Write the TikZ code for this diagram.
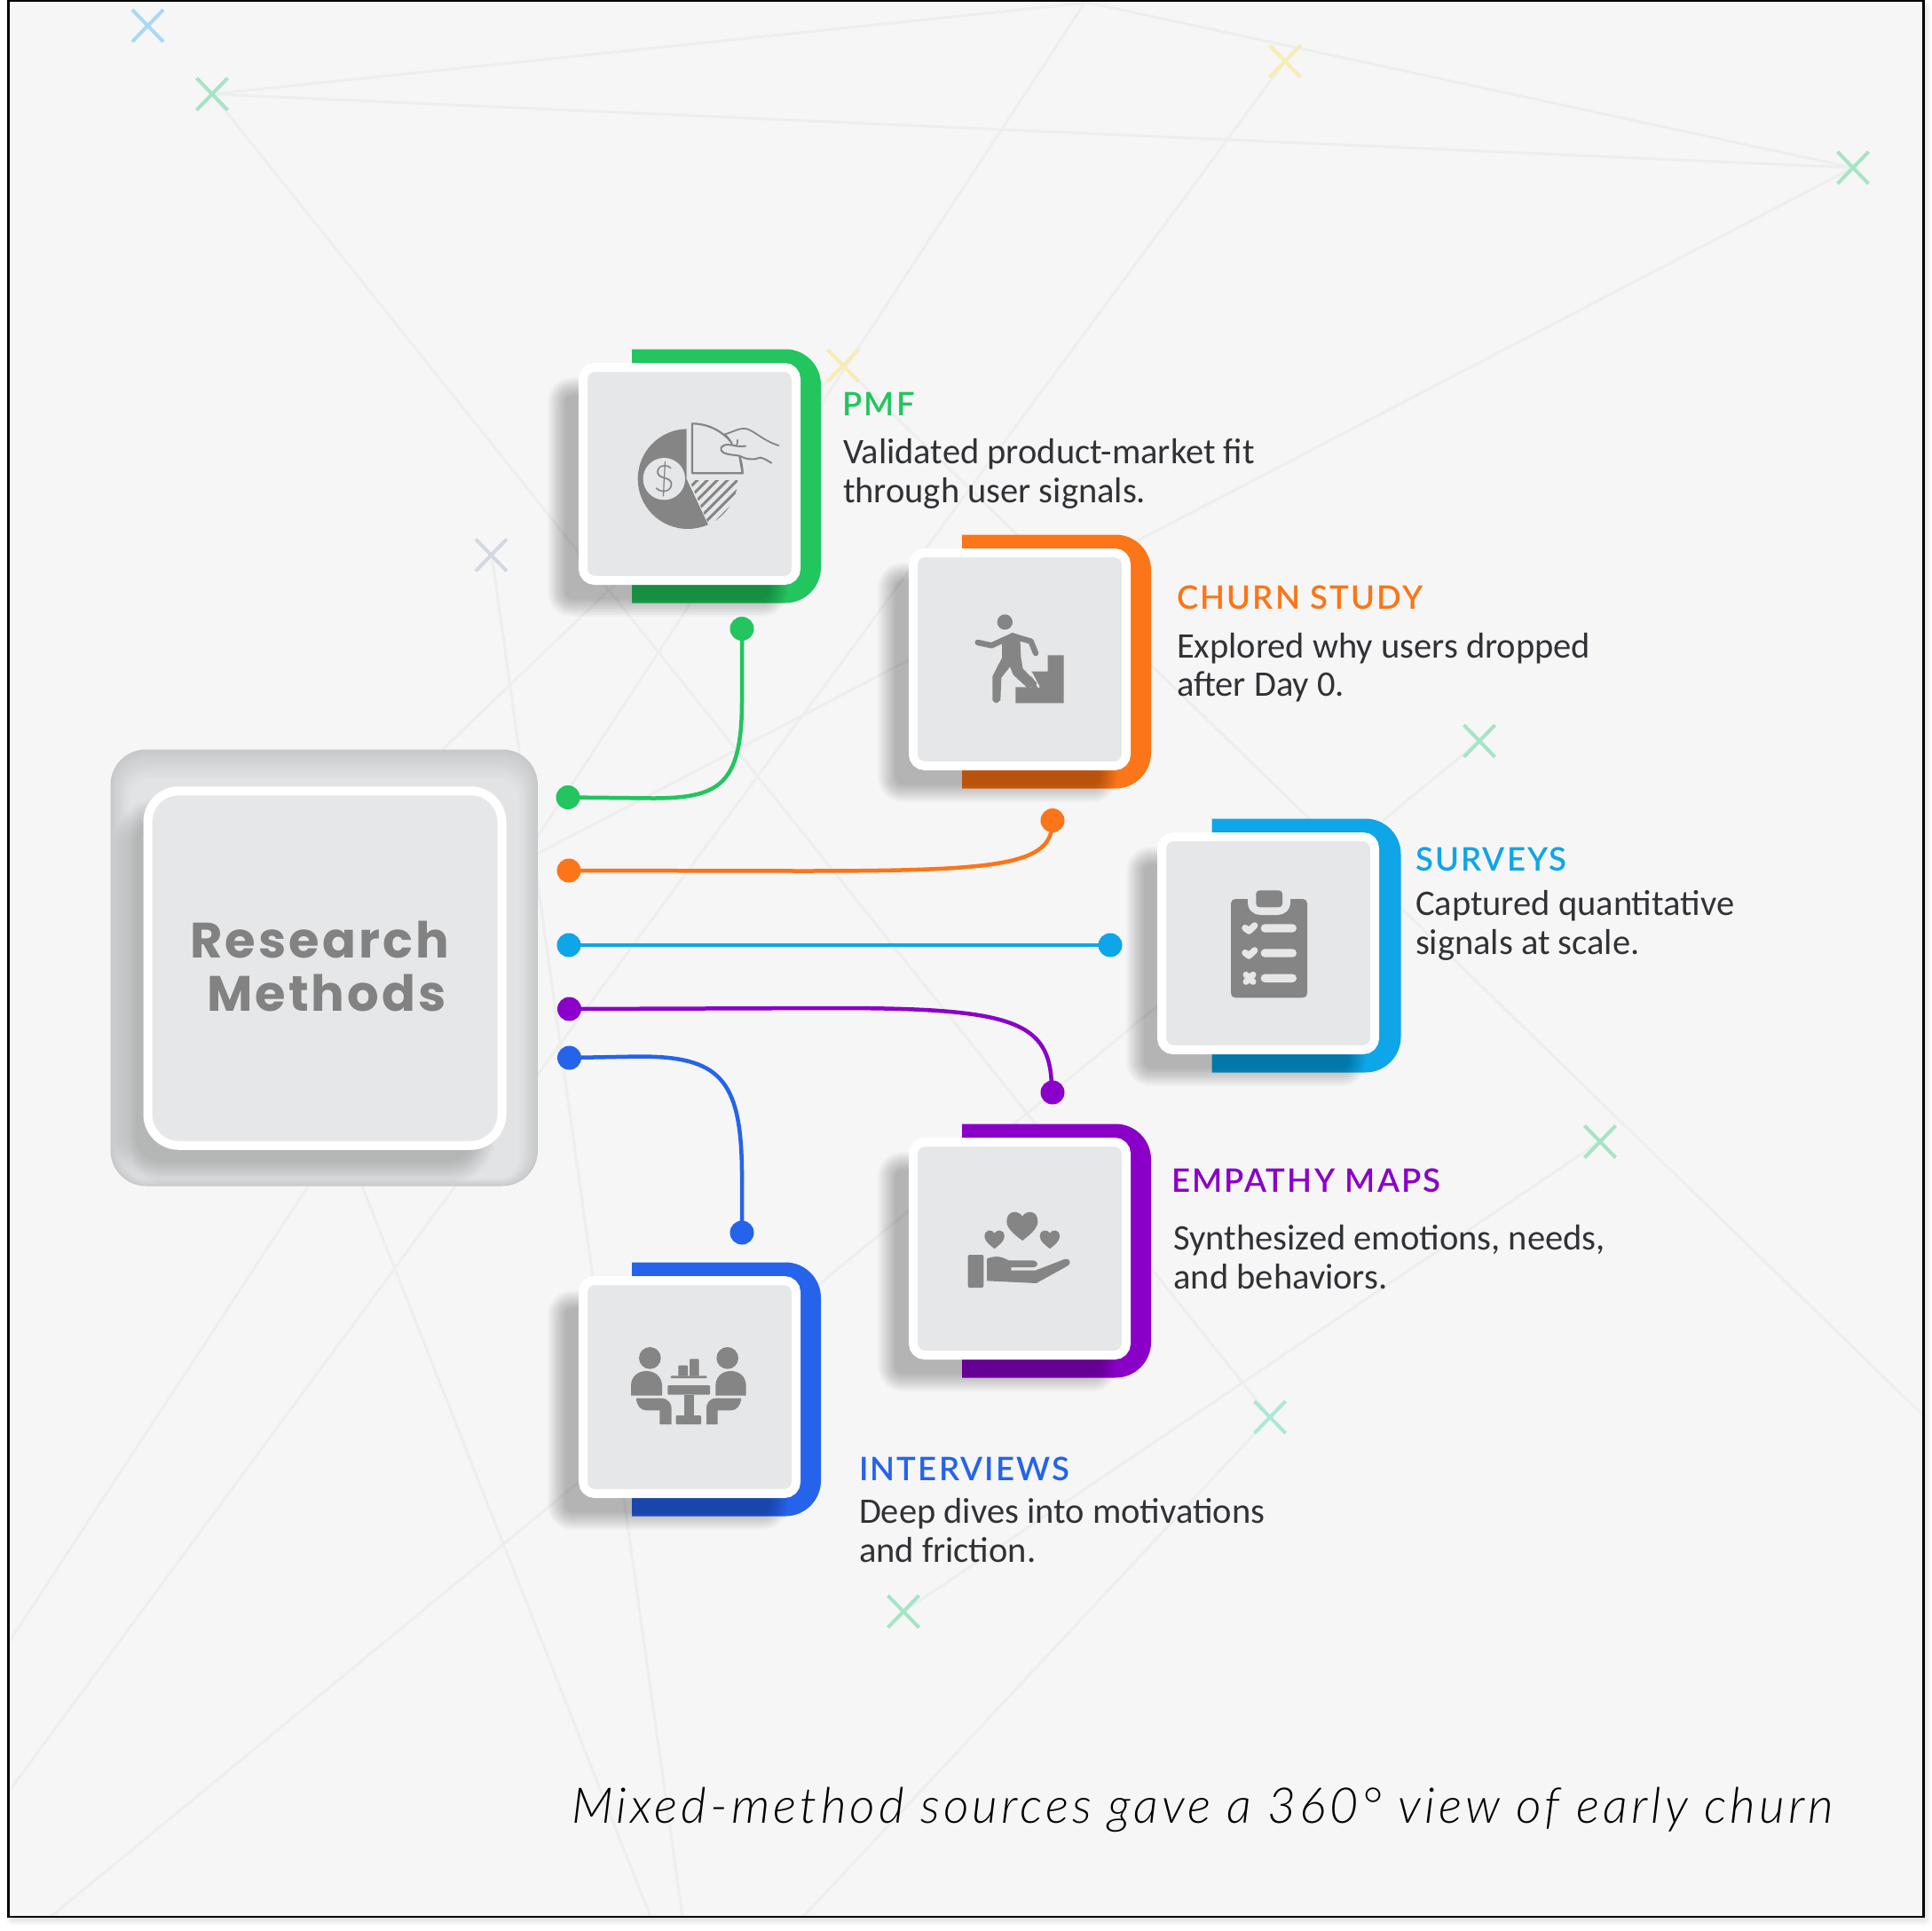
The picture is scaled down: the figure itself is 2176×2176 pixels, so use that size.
\documentclass[tikz,border=0pt]{standalone}
\usepackage{fontspec}
\newfontfamily\bodyfont{Carlito}
\newfontfamily\titlefont[LetterSpace=6]{Lato Semibold}
\newfontfamily\capfont[LetterSpace=7.45]{Lato Light Italic}
\newfontfamily\heavyfont[LetterSpace=5.5]{Poppins Bold}
\newfontfamily\dollarfont{Lato Light}
\definecolor{pagebg}{HTML}{F6F6F6}
\definecolor{tilegray}{HTML}{E6E7E9}
\definecolor{icongray}{HTML}{858585}
\definecolor{gridline}{HTML}{EDEEEE}
\definecolor{bodyink}{HTML}{303236}
\definecolor{cgreen}{HTML}{22C55E}
\definecolor{corange}{HTML}{FC7518}
\definecolor{csky}{HTML}{0EA5E9}
\definecolor{cpurple}{HTML}{8B00C9}
\definecolor{cblue}{HTML}{2563EB}
\definecolor{xblue}{HTML}{A9D8F5}
\definecolor{xgreen}{HTML}{A6E4C6}
\definecolor{xyellow}{HTML}{F7ECB4}
\definecolor{xslate}{HTML}{D3D8E2}
\definecolor{xteal}{HTML}{ABE8D7}
\definecolor{hubedge}{HTML}{C8C9CA}
\definecolor{hubmid}{HTML}{E2E3E4}
\tikzset{
  grid/.style={draw=gridline,line width=3pt},
  xmark/.style={line width=4pt},
  tile/.style={draw=white,fill=tilegray,line width=10pt,rounded corners=13pt,minimum size=240pt,inner sep=0pt,outer sep=0pt},
  dotnode/.style={circle,fill=#1,minimum size=27pt,inner sep=0pt,outer sep=0pt},
  wire/.style={draw=#1,line width=4.5pt},
  icon/.style={fill=icongray},
  iconline/.style={draw=icongray,line cap=round,line join=round},
  cut/.style={draw=tilegray,line cap=round,line join=round},
  titletext/.style={anchor=base west,inner sep=0pt,outer sep=0pt,font=\titlefont\fontsize{36.5}{40}\selectfont,text=#1},
  bodytext/.style={anchor=base west,inner sep=0pt,outer sep=0pt,font=\bodyfont\fontsize{40.5}{44}\selectfont,text=bodyink},
}
% soft shadow: x1 y1 x2 y2 radius layer-opacity spread
\newcommand{\softshadow}[7]{%
  \foreach \k in {0,...,11}{%
    \pgfmathsetmacro{\dd}{(\k-5.5)*#7/5.5}%
    \pgfmathsetmacro{\rr}{max(#5-\dd,1)}%
    \fill[black,fill opacity=#6,rounded corners=\rr pt] ({#1+\dd},{#2+\dd}) rectangle ({#3-\dd},{#4-\dd});%
  }}
% coloured back plate + shadow + tile: name x y colour plate-offset
\newcommand{\card}[5]{%
  \pgfmathsetmacro{\xa}{#2+60+#5}\pgfmathsetmacro{\xb}{#2+273+#5}%
  \pgfmathsetmacro{\ya}{#3-15.5}\pgfmathsetmacro{\yb}{#3+270.5}%
  \fill[#4] (\xa,\ya) [rounded corners=40pt] -- (\xb,\ya) -- (\xb,\yb) [sharp corners] -- (\xa,\yb) -- cycle;%
  \softshadow{#2-25}{#3+26}{#2+225}{#3+276}{18}{0.024}{10}%
  \node[tile] (#1) at (#2+125,#3+125) {};%
}
\newcommand{\xat}[3]{\draw[xmark,draw=#3] (#1-17.5,#2-18) -- (#1+17.5,#2+18) (#1-17.5,#2+18) -- (#1+17.5,#2-18);}
\newcommand{\heartat}[3]{\fill[icon,shift={(#1,#2)},scale=#3] (0,17) .. controls (-11,-3) and (-53,-7) .. (-53,35) .. controls (-53,60) and (-21,83) .. (0,99) .. controls (21,83) and (52,60) .. (52,35) .. controls (52,-7) and (11,-3) .. (0,17) -- cycle;}
\begin{document}
\begin{tikzpicture}[x=1pt,y=-1pt]
\useasboundingbox (0,0) rectangle (2176,2176);
\fill[white] (0,0) rectangle (2176,2176);
\softshadow{12}{6}{2171}{2165}{1}{0.012}{5}
\fill[pagebg] (9.5,1) rectangle (2167.5,2160);
% background mesh
\begin{scope}
\clip (9.5,1) rectangle (2167.5,2160);
\draw[grid] (239,106) -- (1226,3) -- (2088,189) -- cycle;
\draw[grid] (239,106) -- (1431,1597);
\draw[grid] (1448,69) -- (9,2020);
\draw[grid] (1223,2) -- (9,1852);
\draw[grid] (2088,189) -- (360,1090);
\draw[grid] (554,625) -- (769,2160);
\draw[grid] (57,2160) -- (1667,835);
\draw[grid] (1803,1286) -- (1018,1816);
\draw[grid] (950,412) -- (2168,1596);
\draw[grid] (370,1240) -- (733,2160);
\draw[grid] (950,412) -- (420,920);
\draw[grid] (1431,1597) -- (905,2160);
\end{scope}
\xat{166.5}{29}{xblue}
\xat{239}{106}{xgreen}
\xat{1448}{69}{xyellow}
\xat{2088}{189}{xgreen}
\xat{950}{412}{xyellow}
\xat{553.5}{625.5}{xslate}
\xat{1667}{835}{xgreen}
\xat{1803}{1286.5}{xgreen}
\xat{1431}{1597}{xteal}
\xat{1018}{1816}{xgreen}
% hub
\foreach \k in {0,...,14}{
  \pgfmathtruncatemacro{\p}{100-\k*100/14}
  \pgfmathsetmacro{\rr}{max(40-\k*1.2,6)}
  \fill[hubedge!\p!hubmid,rounded corners=\rr pt] ({124.5+\k*1.5},{844.5+\k*2.4}) rectangle ({606-\k*1.5},{1336.5-\k*0.6});
}
\softshadow{141}{911}{546}{1321}{40}{0.016}{12}
\node[draw=white,fill=tilegray,line width=10pt,rounded corners=35pt,minimum width=399pt,minimum height=399.5pt,inner sep=0pt,outer sep=0pt] (hub) at (366,1091) {};
\node[anchor=base,inner sep=0pt,outer sep=0pt,font=\heavyfont\fontsize{56}{60}\selectfont,text=icongray!98!black] (hubA) at (360,1079.5) {Research};
\node[anchor=base,inner sep=0pt,outer sep=0pt,font=\heavyfont\fontsize{56}{60}\selectfont,text=icongray!98!black] (hubB) at (368,1139) {Methods};
% cards
\card{pmf}{652}{409}{cgreen}{0}
\card{churn}{1024}{618}{corange}{0}
\card{surveys}{1304}{938}{csky}{1.5}
\card{empathy}{1024}{1282}{cpurple}{0}
\card{interviews}{652}{1438}{cblue}{0}
% PMF icon
\begin{scope}[shift={(620,370)},x=.33333pt,y=-.33333pt]
  \begin{scope}
    \clip (461,300) -- (461,509) -- (551,700) -- (200,700) -- (200,300) -- cycle;
    \fill[icon] (465,509) circle [radius=169];
  \end{scope}
  \fill[tilegray] (385,509) circle [radius=71];
  \node[inner sep=0pt,text=icongray,font=\dollarfont\fontsize{42}{42}\selectfont] (pmfdollar) at (385,509) {\$};
  \begin{scope}
    \clip (470,513) -- (640,513) -- (640,700) -- (552,700) -- cycle;
    \clip (465,509) circle [radius=169];
    \foreach \s in {500,534,...,840}{
      \draw[draw=icongray,line width=3pt] (\s,510) -- ++(-200,200);
    }
  \end{scope}
  \draw[draw=icongray,line width=2.2pt,line join=round] (480,490) -- (480,322) .. controls (575,322) and (650,400) .. (650,490) -- cycle;
  \fill[tilegray] (575,400) .. controls (600,380) and (610,385) .. (625,375) -- (650,420) -- (645,440) -- (600,430) -- cycle;
  \draw[iconline,line width=1.8pt] (590,358) .. controls (625,348) and (640,335) .. (665,340) .. controls (695,350) and (720,380) .. (772,396);
  \draw[iconline,line width=2pt] (660,398) .. controls (640,402) and (620,395) .. (600,393) .. controls (575,395) and (570,410) .. (585,420) .. controls (600,428) and (625,428) .. (640,431) .. controls (665,445) and (690,445) .. (710,437) .. controls (725,440) and (735,448) .. (748,455);
  \draw[iconline,line width=1.6pt] (633,377) .. controls (635,385) and (632,393) .. (628,398);
  \draw[draw=icongray,line width=2.2pt,line join=round] (590,358) .. controls (605,375) and (612,385) .. (615,392) (640,432) -- (650,490);
\end{scope}
% churn icon
\begin{scope}[shift={(1010,590)},x=.33333pt,y=-.33333pt]
  \fill[icon] (403,607) -- (403,553) -- (457,553) -- (457,500) -- (512,500) -- (512,445) -- (566,445) -- (566,607) -- cycle;
  \draw[cut,line width=2.4pt] (456,505) -- (481,552);
  \fill[icon] (367,333) circle [radius=26];
  \draw[iconline,line width=6.5pt] (275,402) -- (322,412) -- (392,380) -- (455,398) -- (471,438);
  \fill[icon,draw=icongray,line join=round,line width=2pt] (360,395) -- (392,372) -- (415,380) -- (418,450) -- (425,492) -- (472,540) -- (445,553) -- (398,510) -- (385,478) -- (352,520) -- (349,597) -- (328,597) -- (328,517) -- (360,455) -- cycle;
  \draw[iconline,line width=7pt] (338,520) -- (338,596);
\end{scope}
% surveys icon
\begin{scope}[shift={(1290,920)},x=.33333pt,y=-.33333pt]
  \fill[icon,rounded corners=5pt] (291,279) rectangle (549,613);
  \fill[tilegray] (348,270) -- (492,270) -- (492,290) .. controls (492,318) and (470,333) .. (450,333) -- (390,333) .. controls (370,333) and (348,318) .. (348,290) -- cycle;
  \fill[icon,rounded corners=4pt] (376,250) rectangle (465,307);
  \foreach \yy in {378,462,547}{
    \fill[tilegray,rounded corners=4.6pt] (392,\yy-14) rectangle (513,\yy+14);
  }
  \foreach \yy in {378,462}{
    \draw[cut,line width=7.5pt] (339,\yy-1) -- (352,\yy+9) -- (371,\yy-9);
  }
  \draw[cut,line width=7pt] (342,535) -- (366,559) (342,559) -- (366,535);
\end{scope}
% empathy icon
\begin{scope}[shift={(1020,1260)},x=.33333pt,y=-.33333pt]
  \heartat{396}{315}{1}
  \heartat{302}{378}{.64}
  \heartat{489}{378}{.64}
  \fill[icon,rounded corners=2pt] (212,462) rectangle (265,573);
  \fill[icon,line join=round] (276,475) .. controls (310,462) and (330,470) .. (350,481) -- (432,481) .. controls (452,484) and (452,503) .. (432,504) -- (358,504) -- (358,515) -- (440,515) -- (538,477) .. controls (558,472) and (564,492) .. (548,500) -- (443,558) -- (276,550) -- cycle;
\end{scope}
% interviews icon
\begin{scope}[shift={(640,1420)},x=.33333pt,y=-.33333pt]
  \fill[icon] (277,331) circle [radius=37];
  \fill[icon] (539,331) circle [radius=37];
  \fill[icon] (213,458) -- (213,425) .. controls (213,390) and (240,375) .. (265,375) .. controls (295,375) and (318,395) .. (318,425) -- (318,458) -- cycle;
  \fill[icon] (602,458) -- (602,425) .. controls (602,390) and (575,375) .. (550,375) .. controls (520,375) and (499,395) .. (499,425) -- (499,458) -- cycle;
  \fill[icon] (231,467) -- (315,467) .. controls (338,467) and (350,485) .. (350,500) -- (350,555) -- (310,555) -- (310,508) -- (265,508) .. controls (245,508) and (231,490) .. (231,467) -- cycle;
  \fill[icon] (585,467) -- (501,467) .. controls (478,467) and (468,485) .. (468,500) -- (468,555) -- (506,555) -- (506,508) -- (551,508) .. controls (571,508) and (585,490) .. (585,467) -- cycle;
  \fill[icon,rounded corners=1pt] (337,423) rectangle (480,455);
  \fill[icon] (392,455) rectangle (425,525);
  \fill[icon,rounded corners=1pt] (365,525) rectangle (450,555);
  \fill[icon,rounded corners=1pt] (347,391) rectangle (470,399);
  \fill[icon,rounded corners=1pt] (373,356) rectangle (405,392);
  \fill[icon,rounded corners=1pt] (411,334) rectangle (443,392);
\end{scope}
% connector end dots
\node[dotnode=cgreen] (g1) at (640,898.5) {};
\node[dotnode=cgreen] (g2) at (836,708.5) {};
\node[dotnode=corange] (o1) at (641,981) {};
\node[dotnode=corange] (o2) at (1186,924.5) {};
\node[dotnode=csky] (s1) at (641,1065) {};
\node[dotnode=csky] (s2) at (1251,1065) {};
\node[dotnode=cpurple] (p1) at (641.5,1137) {};
\node[dotnode=cpurple] (p2) at (1186,1231) {};
\node[dotnode=cblue] (b1) at (641.5,1192) {};
\node[dotnode=cblue] (b2) at (836,1389) {};
% connectors
\draw[wire=cgreen] (g1.center) -- (735,899.5) .. controls (810,899.5) and (836,885) .. (836,790) -- (g2.center);
\draw[wire=corange] (o1.center) -- (900,981.5) .. controls (1130,981.5) and (1186,975) .. (1186,925) -- (o2.center);
\draw[wire=csky] (s1.center) -- (s2.center);
\draw[wire=cpurple] (p1.center) -- (940,1136) .. controls (1140,1136) and (1184,1150) .. (1185,1225) -- (p2.center);
\draw[wire=cblue] (b1.center) -- (720,1190.5) .. controls (810,1190.5) and (835,1215) .. (836,1320) -- (b2.center);
% text
\node[titletext=cgreen] (t1) at (949.5,468) {PMF};
\node[bodytext] (t1a) at (950,522) {Validated product-market fit};
\node[bodytext] (t1b) at (950,566) {through user signals.};
\node[titletext=corange] (t2) at (1326,686.5) {CHURN STUDY};
\node[bodytext] (t2a) at (1326,741) {Explored why users dropped};
\node[bodytext] (t2b) at (1326,784.5) {after Day 0.};
\node[titletext=csky] (t3) at (1595,981) {SURVEYS};
\node[bodytext] (t3a) at (1595,1031.5) {Captured quantitative};
\node[bodytext] (t3b) at (1595,1075.5) {signals at scale.};
\node[titletext=cpurple] (t4) at (1320,1343.5) {EMPATHY MAPS};
\node[bodytext] (t4a) at (1322.5,1408) {Synthesized emotions, needs,};
\node[bodytext] (t4b) at (1322.5,1452) {and behaviors.};
\node[titletext=cblue] (t5) at (968,1668.5) {INTERVIEWS};
\node[bodytext] (t5a) at (968,1716) {Deep dives into motivations};
\node[bodytext] (t5b) at (968,1760.5) {and friction.};
\node[anchor=base west,inner sep=0pt,outer sep=0pt,font=\capfont\fontsize{55.5}{60}\selectfont,text=black] (cap) at (644,2054) {Mixed-method sources gave a 360° view of early churn};
\draw[black,line width=2.5pt] (9.5,1) rectangle (2167.5,2160);
\end{tikzpicture}
\end{document}
